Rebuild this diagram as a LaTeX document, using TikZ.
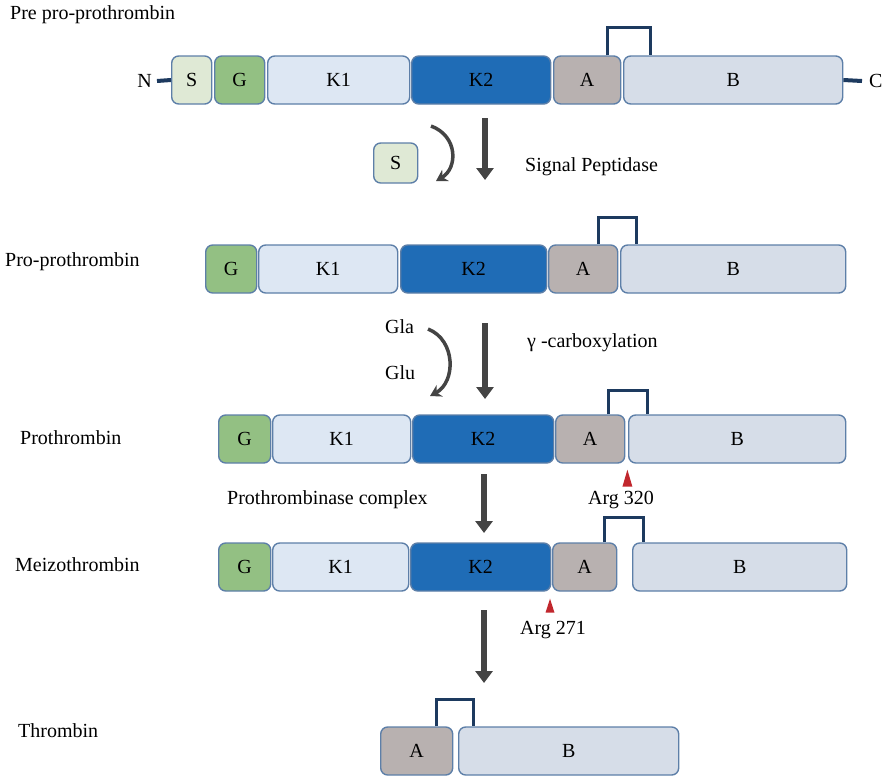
\documentclass[tikz,border=0pt]{standalone}
\usepackage{fontspec}
\setmainfont{Liberation Serif}
\usetikzlibrary{arrows.meta}

\definecolor{sigc}{HTML}{DFE9D5}
\definecolor{glac}{HTML}{93C083}
\definecolor{kric}{HTML}{DDE7F3}
\definecolor{krid}{HTML}{1F6CB6}
\definecolor{actc}{HTML}{B8B1B0}
\definecolor{catc}{HTML}{D6DDE8}
\definecolor{edgec}{HTML}{5D7FA8}
\definecolor{bondc}{HTML}{1D3A5F}
\definecolor{arrc}{HTML}{444444}
\definecolor{cutc}{HTML}{C1272D}

\begin{document}
\begin{tikzpicture}[x=1pt,y=-1pt,
  dom/.style={draw=edgec, line width=1.4pt, rounded corners=7pt, minimum height=48pt,
    anchor=west, inner sep=0pt, font=\fontsize{20}{20}\selectfont},
  lbl/.style={anchor=west, inner sep=0pt, font=\fontsize{20}{20}\selectfont},
  bond/.style={draw=bondc, line width=3pt},
  tail/.style={draw=bondc, line width=4pt},
  flow/.style={draw=arrc, line width=6pt, -{Triangle[length=12pt,width=17pt]}},
  curv/.style={draw=arrc, line width=3.5pt, -{Stealth[length=11pt,width=13pt]}}]
\useasboundingbox (0,0) rectangle (888,777);

% Pre pro-prothrombin
\node[lbl] (t1) at (10,15) {Pre pro-prothrombin};
\node[dom, fill=sigc, minimum width=40pt] (s1) at (171,80) {S};
\node[dom, fill=glac, minimum width=50pt] (g1) at (214,80) {G};
\node[dom, fill=kric, minimum width=142pt] (ka1) at (267,80) {K1};
\node[dom, fill=krid, minimum width=139pt] (kb1) at (411,80) {K2};
\node[dom, fill=actc, minimum width=67pt] (a1) at (553,80) {A};
\node[dom, fill=catc, minimum width=219pt] (b1) at (623,80) {B};
\node[lbl, anchor=east] (n1) at (152,81) {N};
\node[lbl] (c1) at (869,81) {C};
\draw[tail] (s1.west) -- ([xshift=5pt]n1.east);
\draw[tail] (b1.east) -- ([xshift=-7pt]c1.west);
\draw[bond] ([xshift=-14pt]a1.north east) -- ++(0,-28) -| ([xshift=27pt]b1.north west);

% signal peptidase step
\node[dom, fill=sigc, minimum width=44pt, minimum height=40pt] (s0) at (373,163) {S};
\coordinate (f1a) at (485,118);
\coordinate (f1b) at (485,180);
\draw[flow] (f1a) -- (f1b);
\coordinate (c1a) at (431,126);
\coordinate (c1b) at (436,181);
\draw[curv] (c1a) .. controls (458,136) and (458,168) .. (c1b);
\node[lbl] (sp) at (525,167) {Signal Peptidase};

% Pro-prothrombin
\node[lbl] (t2) at (5,262) {Pro-prothrombin};
\node[dom, fill=glac, minimum width=51pt] (g2) at (205,269) {G};
\node[dom, fill=kric, minimum width=139pt] (ka2) at (258,269) {K1};
\node[dom, fill=krid, minimum width=146pt] (kb2) at (400,269) {K2};
\node[dom, fill=actc, minimum width=69pt] (a2) at (548,269) {A};
\node[dom, fill=catc, minimum width=225pt] (b2) at (620,269) {B};
\draw[bond] ([xshift=-20pt]a2.north east) -- ++(0,-27) -| ([xshift=16pt]b2.north west);

% gamma-carboxylation step
\node[lbl] (gla) at (385,327) {Gla};
\node[lbl] (glu) at (385,373) {Glu};
\coordinate (f2a) at (485,323);
\coordinate (f2b) at (485,399);
\draw[flow] (f2a) -- (f2b);
\coordinate (c2a) at (428,329);
\coordinate (c2b) at (430,396);
\draw[curv] (c2a) .. controls (456,340) and (456,382) .. (c2b);
\node[lbl] (gc) at (527,343) {γ -carboxylation};

% Prothrombin
\node[lbl] (t3) at (20,438) {Prothrombin};
\node[dom, fill=glac, minimum width=52pt] (g3) at (218,439) {G};
\node[dom, fill=kric, minimum width=138pt] (ka3) at (272,439) {K1};
\node[dom, fill=krid, minimum width=141pt] (kb3) at (412,439) {K2};
\node[dom, fill=actc, minimum width=69pt] (a3) at (555,439) {A};
\node[dom, fill=catc, minimum width=217pt] (b3) at (628,439) {B};
\draw[bond] ([xshift=-17pt]a3.north east) -- ++(0,-24) -| ([xshift=19pt]b3.north west);
\coordinate (r320) at ([xshift=2pt,yshift=-6pt]a3.south east);
\fill[cutc] (r320) -- ++(-5,17) -- ++(10,0) -- cycle;
\node[lbl, anchor=center] (arg1) at (621,500) {Arg 320};

% prothrombinase step
\node[lbl] (pc) at (227,500) {Prothrombinase complex};
\coordinate (f3a) at (484,474);
\coordinate (f3b) at (484,533);
\draw[flow] (f3a) -- (f3b);

% Meizothrombin
\node[lbl] (t4) at (15,565) {Meizothrombin};
\node[dom, fill=glac, minimum width=52pt] (g4) at (218,567) {G};
\node[dom, fill=kric, minimum width=136pt] (ka4) at (272,567) {K1};
\node[dom, fill=krid, minimum width=140pt] (kb4) at (410,567) {K2};
\node[dom, fill=actc, minimum width=64pt] (a4) at (552,567) {A};
\node[dom, fill=catc, minimum width=214pt] (b4) at (632,567) {B};
\draw[bond] ([xshift=-13pt]a4.north east) -- ++(0,-25) -| ([xshift=11pt]b4.north west);
\coordinate (r271) at ([xshift=-2pt,yshift=-7pt]a4.south west);
\fill[cutc] (r271) -- ++(-4.5,14) -- ++(9,0) -- cycle;
\node[lbl, anchor=center] (arg2) at (553,630) {Arg 271};

\coordinate (f4a) at (484,610);
\coordinate (f4b) at (484,683);
\draw[flow] (f4a) -- (f4b);

% Thrombin
\node[lbl] (t5) at (18,731) {Thrombin};
\node[dom, fill=actc, minimum width=72pt] (a5) at (380,751) {A};
\node[dom, fill=catc, minimum width=220pt] (b5) at (458,751) {B};
\draw[bond] ([xshift=-17pt]a5.north east) -- ++(0,-27) -| ([xshift=15pt]b5.north west);
\end{tikzpicture}
\end{document}
